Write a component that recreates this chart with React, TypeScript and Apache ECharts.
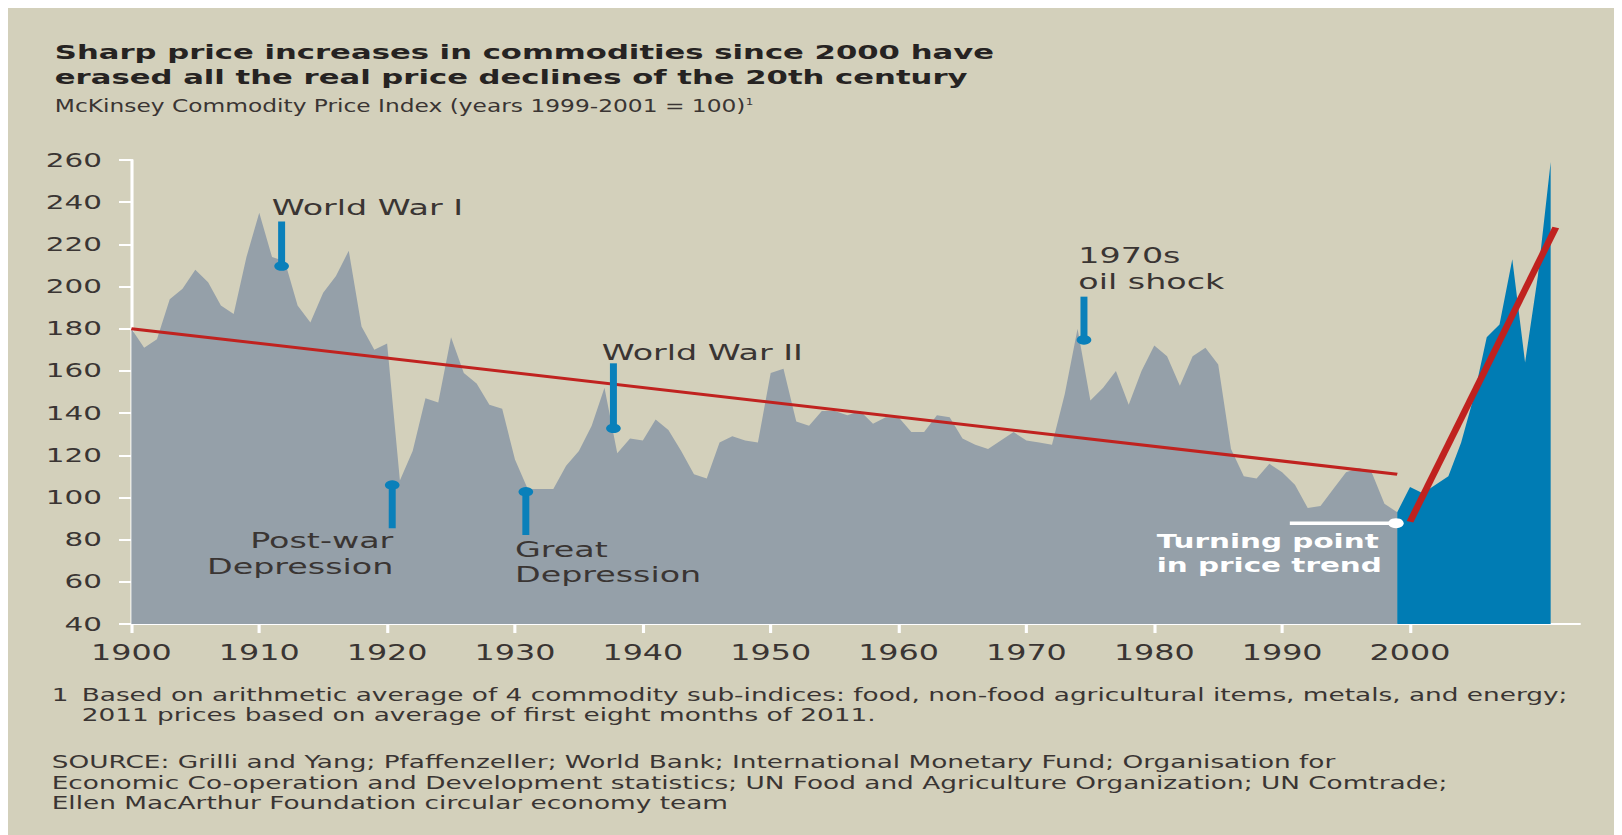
import React, { useEffect, useRef } from 'react';
import * as echarts from 'echarts';

// ---------- data ----------
const START_YEAR = 1900;
// McKinsey Commodity Price Index, 1900-1999 (grey area)
const indexTo1999 = [
  180, 171, 175, 194, 199, 208, 202, 191, 187, 214,
  235, 214, 212, 191, 183, 197, 205, 217, 181, 170,
  173, 108, 122, 147, 145, 176, 159, 154, 144, 142,
  118, 104, 104, 104, 115, 122, 134, 152, 121, 128,
  127, 137, 132, 122, 111, 109, 126, 129, 127, 126,
  159, 161, 136, 134, 141, 141, 139, 141, 135, 138,
  138, 131, 131, 139, 138, 128, 125, 123, 127, 131,
  127, 126, 125, 149, 180, 146, 152, 160, 144, 160,
  172, 167, 153, 167, 171, 163, 123, 110, 109, 116,
  112, 106, 95, 96, 104, 112, 114, 112, 97, 93,
];
// 1999-2011 (blue area)
const TURN_YEAR = 1999;
const indexFrom1999 = [93, 105, 102, 106, 110, 126, 148, 176, 182, 213, 164, 205, 259];

const xTickYears = [1900, 1910, 1920, 1930, 1940, 1950, 1960, 1970, 1980, 1990, 2000, 2010];
const longTrend = [[1900, 180], [1999, 111]];
const newTrend = [[2000, 88.5], [2011.4, 228]];
const turningLine = [[1990.6, 87.8], [1998.9, 87.8]];
const turningDot = [[1998.9, 87.8]];

const eventNames = ['World War I', 'Post-war Depression', 'Great Depression', 'World War II', '1970s oil shock'];
const eventYears = [1911.75, 1920.4, 1930.85, 1937.7, 1974.5];
const eventBarEnd = [230.8, 85.4, 82.2, 163.6, 195.2];
const eventDotAt = [209.7, 105.9, 102.7, 132.8, 174.7];

// ---------- layout ----------
const SX = 1.55; // horizontal stretch of the whole picture
const FULL_W = 1614;
const FULL_H = 827;
const CHART_W = FULL_W / SX;
const BG = '#D3D0BB';
const GREY = '#95A0A9';
const BLUE = '#007CB4';
const RED = '#C0221F';
const MARK = '#0A80BA';
const TXT = '#3a3533';
const FONT = '"DejaVu Sans", sans-serif';

const px = (X: number) => (X - 8) / SX;
const py = (Y: number) => Y - 8;

function txt(x: number, y: number, text: string, size: number, extra: any = {}, scaleX = 1) {
  return {
    type: 'text',
    x,
    y,
    scaleX,
    z: 100,
    silent: true,
    style: {
      text,
      fontSize: size,
      fontFamily: FONT,
      fill: TXT,
      align: 'left',
      verticalAlign: 'middle',
      lineHeight: Math.round(size * 0.95),
      ...extra,
    },
  };
}

export default function App() {
  const ref = useRef<HTMLDivElement>(null);
  useEffect(() => {
    document.documentElement.style.overflow = 'hidden';
    document.body.style.overflow = 'hidden';
    const chart = echarts.init(ref.current!, null, { renderer: 'svg' });

    const greyData = indexTo1999.map((v, i) => [START_YEAR + i, v]);
    const blueData = indexFrom1999.map((v, i) => [TURN_YEAR + i, v]);

    const eventBars = eventYears.map((yr, i) => ({
      type: 'line',
      name: eventNames[i],
      data: [[yr, eventBarEnd[i]], [yr, eventDotAt[i]]],
      symbol: 'none',
      lineStyle: { color: MARK, width: 4.5 },
      z: 6,
      silent: true,
    }));

    const option: any = {
      animation: false,
      backgroundColor: 'transparent',
      grid: { left: 79.6, right: CHART_W - 1014.2, top: 152, bottom: 211, containLabel: false },
      xAxis: {
        type: 'value',
        min: 1900,
        max: 2013.26,
        interval: 10,
        splitLine: { show: false },
        axisLine: { show: true, lineStyle: { color: '#ffffff', width: 2 } },
        axisTick: { show: true, inside: false, length: 9, lineStyle: { color: '#ffffff', width: 2 }, customValues: xTickYears },
        axisLabel: {
          customValues: xTickYears,
          margin: 18,
          fontSize: 20.5,
          fontFamily: FONT,
          color: TXT,
          showMaxLabel: false,
          formatter: (v: number) => (xTickYears.indexOf(v) >= 0 ? String(v) : ''),
        },
      },
      yAxis: {
        type: 'value',
        min: 40,
        max: 260,
        interval: 20,
        splitLine: { show: false },
        axisLine: { show: true, lineStyle: { color: '#ffffff', width: 2 } },
        axisTick: { show: true, inside: false, length: 8, lineStyle: { color: '#ffffff', width: 2 } },
        axisLabel: { margin: 19, fontSize: 19, fontFamily: FONT, color: TXT },
      },
      series: [
        {
          type: 'line',
          name: 'Index to 1999',
          data: greyData,
          symbol: 'none',
          lineStyle: { width: 0 },
          areaStyle: { color: GREY, opacity: 1, origin: 'start' },
          z: 1,
          silent: true,
        },
        {
          type: 'line',
          name: 'Index from 1999',
          data: blueData,
          symbol: 'none',
          lineStyle: { width: 0 },
          areaStyle: { color: BLUE, opacity: 1, origin: 'start' },
          z: 2,
          silent: true,
        },
        {
          type: 'line',
          name: '20th century trend',
          data: longTrend,
          symbol: 'none',
          lineStyle: { color: RED, width: 3 },
          z: 4,
          silent: true,
        },
        {
          type: 'line',
          name: 'New trend',
          data: newTrend,
          symbol: 'none',
          lineStyle: { color: RED, width: 4.5 },
          z: 4,
          silent: true,
        },
        {
          type: 'line',
          name: 'Turning line',
          data: turningLine,
          symbol: 'none',
          lineStyle: { color: '#ffffff', width: 3.5 },
          z: 5,
          silent: true,
        },
        {
          type: 'scatter',
          name: 'Turning point',
          data: turningDot,
          symbol: 'circle',
          symbolSize: 10,
          itemStyle: { color: '#ffffff', opacity: 1 },
          z: 5,
          silent: true,
        },
        ...eventBars,
        {
          type: 'scatter',
          name: 'Event dots',
          data: eventYears.map((yr, i) => [yr, eventDotAt[i]]),
          symbol: 'circle',
          symbolSize: 9.5,
          itemStyle: { color: MARK, opacity: 1 },
          z: 7,
          silent: true,
        },
      ],
      graphic: [
        txt(px(54.8), py(52), 'Sharp price increases in commodities since 2000 have', 19.8, { fontWeight: 'bold', fill: '#262322' }),
        txt(px(54.8), py(77), 'erased all the real price declines of the 20th century', 19.8, { fontWeight: 'bold', fill: '#262322' }),
        txt(px(54.8), py(106), 'McKinsey Commodity Price Index (years 1999-2001 = 100){sup|1}', 17.5, {
          rich: { sup: { fontSize: 9, fontFamily: FONT, fill: TXT, verticalAlign: 'top' } },
        }, 0.86),
        txt(px(271.7), py(207.5), 'World War I', 21.5),
        txt(px(393.3), py(541), 'Post-war', 21.5, { align: 'right' }),
        txt(px(393.3), py(566.5), 'Depression', 21.5, { align: 'right' }),
        txt(px(515), py(549.5), 'Great', 21.5),
        txt(px(515), py(575), 'Depression', 21.5),
        txt(px(601.7), py(352.5), 'World War II', 21.5),
        txt(px(1078.3), py(256), '1970s', 21.5),
        txt(px(1078.3), py(281.5), 'oil shock', 21.5),
        txt(px(1156.7), py(541.5), 'Turning point', 19, { fontWeight: 'bold', fill: '#ffffff' }),
        txt(px(1156.7), py(565), 'in price trend', 19, { fontWeight: 'bold', fill: '#ffffff' }),
        txt(px(51.7), py(695), '1', 17),
        txt(px(81.7), py(695), 'Based on arithmetic average of 4 commodity sub-indices: food, non-food agricultural items, metals, and energy;', 17),
        txt(px(81.7), py(715), '2011 prices based on average of first eight months of 2011.', 17),
        txt(px(51.7), py(761.7), 'SOURCE: Grilli and Yang; Pfaffenzeller; World Bank; International Monetary Fund; Organisation for', 17),
        txt(px(51.7), py(782.5), 'Economic Co-operation and Development statistics; UN Food and Agriculture Organization; UN Comtrade;', 17),
        txt(px(51.7), py(803), 'Ellen MacArthur Foundation circular economy team', 17),
      ],
    };

    chart.setOption(option);
    return () => chart.dispose();
  }, []);

  return (
    <div style={{ width: FULL_W, height: FULL_H, background: BG, overflow: 'hidden' }}>
      <div
        ref={ref}
        style={{ width: CHART_W, height: FULL_H, transform: `scaleX(${SX})`, transformOrigin: '0 0' }}
      />
    </div>
  );
}
